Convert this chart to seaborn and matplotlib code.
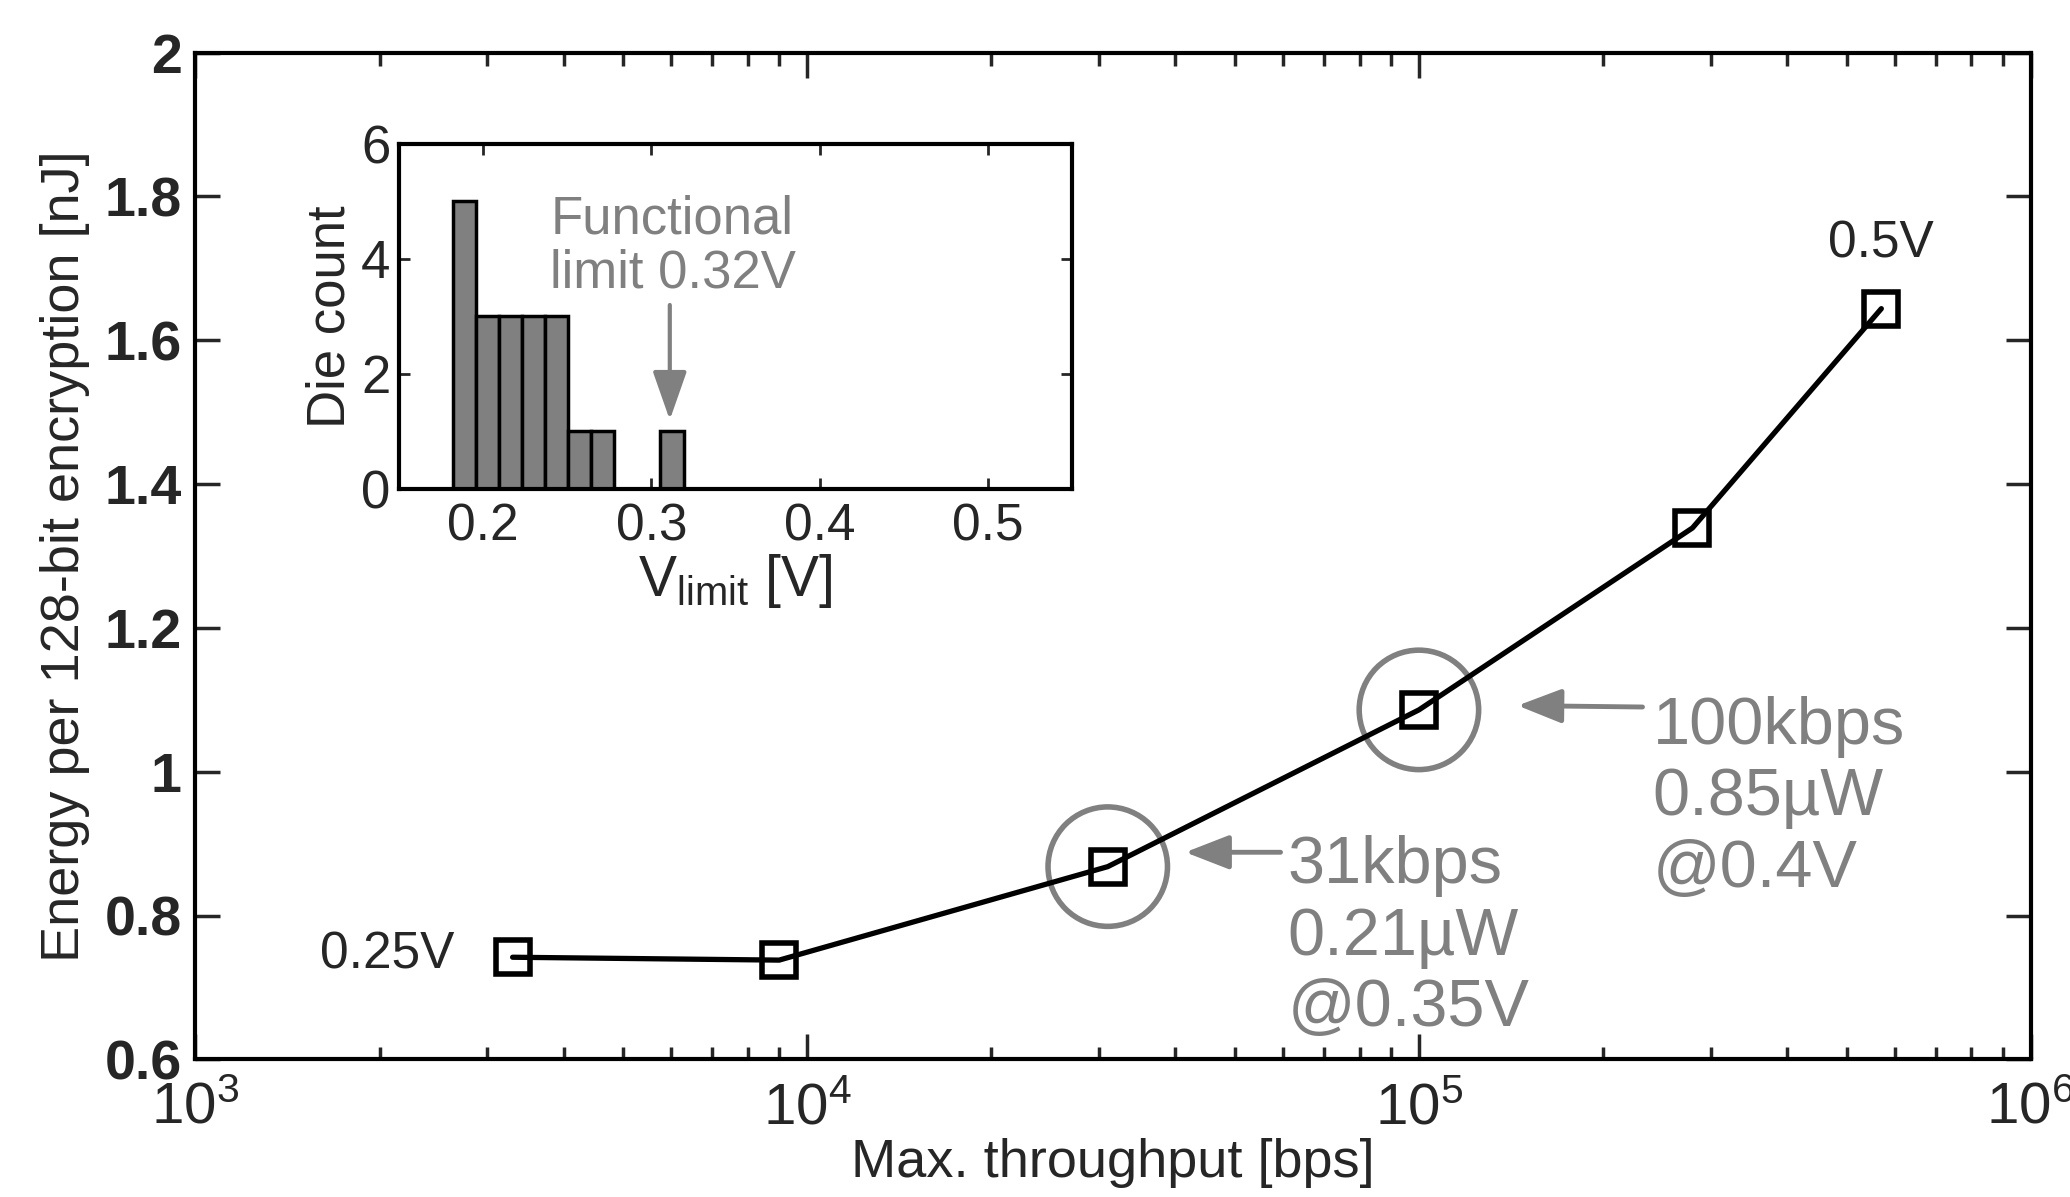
import seaborn as sns
import matplotlib.pyplot as plt
import numpy as np
import pandas as pd

# main curve: throughput vs energy per encryption
throughput = [3300, 9000, 31000, 100000, 280000, 570000]
energy = [0.742, 0.738, 0.868, 1.086, 1.339, 1.644]

# inset histogram of V_limit (die count per bin)
bin_centers = [0.189, 0.2027, 0.2164, 0.2301, 0.2438, 0.2575, 0.2712, 0.2849, 0.2986, 0.3123]
die_counts = [5, 3, 3, 3, 3, 1, 1, 0, 0, 1]

# highlighted operating points
hl_x = [31000, 100000]
hl_y = [0.868, 1.086]

gray = "#808080"

sns.set_style("ticks")
plt.rcParams["font.family"] = ["Liberation Sans", "DejaVu Sans"]
plt.rcParams["mathtext.fontset"] = "custom"
plt.rcParams["mathtext.rm"] = "Liberation Sans"
plt.rcParams["mathtext.it"] = "Liberation Sans"

fig = plt.figure(figsize=(20.7, 11.97), dpi=100)
ax = fig.add_axes([0.0944, 0.115, 0.8866, 0.841])

sns.lineplot(x=throughput, y=energy, ax=ax, color="black", linewidth=3.8,
             marker="s", markersize=24, markerfacecolor="none",
             markeredgecolor="black", markeredgewidth=4, zorder=3)
ax.scatter(hl_x, hl_y, s=86**2, facecolors="none", edgecolors=gray,
           linewidths=4, zorder=2)

ax.set_xscale("log")
ax.set_xlim(1e3, 1e6)
ax.set_ylim(0.6, 2.0)
ax.set_xticks([1e3, 1e4, 1e5, 1e6])
ax.set_xticklabels([r"$10^{3}$", r"$10^{4}$", r"$10^{5}$", r"$10^{6}$"], fontsize=42)
ax.set_yticks([0.6, 0.8, 1.0, 1.2, 1.4, 1.6, 1.8, 2.0])
ax.set_yticklabels(["0.6", "0.8", "1", "1.2", "1.4", "1.6", "1.8", "2"],
                   fontsize=40, fontweight="bold")
ax.tick_params(which="both", direction="in", top=True, right=True, width=2.5)
ax.tick_params(which="major", length=18)
ax.tick_params(which="minor", length=9)
ax.tick_params(axis="x", which="major", pad=16)
ax.tick_params(axis="y", which="major", pad=10)
for s in ax.spines.values():
    s.set_linewidth(3)
    s.set_color("black")
ax.set_xlabel("Max. throughput [bps]", fontsize=39, labelpad=2)
ax.set_ylabel("Energy per 128-bit encryption [nJ]", fontsize=39, labelpad=10)

ax.text(2650, 0.745, "0.25V", fontsize=37, ha="right", va="center")
ax.text(570000, 1.734, "0.5V", fontsize=37, ha="center", va="center")

arrow_kw = dict(arrowstyle="-|>,head_length=0.9,head_width=0.35",
                color=gray, lw=3.5, mutation_scale=30, shrinkA=0, shrinkB=0)
ax.annotate("", xy=(41500, 0.888), xytext=(59400, 0.888), arrowprops=arrow_kw)
ax.text(61000, 0.646, "31kbps\n0.21µW\n@0.35V", fontsize=48, color=gray,
        ha="left", va="baseline", linespacing=1.2)
ax.annotate("", xy=(145000, 1.092), xytext=(232000, 1.09), arrowprops=arrow_kw)
ax.text(241000, 0.840, "100kbps\n0.85µW\n@0.4V", fontsize=48, color=gray,
        ha="left", va="baseline", linespacing=1.2)

# inset
hist_df = pd.DataFrame({"v": bin_centers, "n": die_counts})
ins = fig.add_axes([0.1926, 0.5915, 0.3254, 0.2882])
sns.barplot(data=hist_df, x="v", y="n", native_scale=True, width=1.0, ax=ins,
            color=gray, saturation=1, edgecolor="black", linewidth=2.5)
ins.set_xlim(0.15, 0.55)
ins.set_ylim(0, 6)
ins.set_xticks([0.2, 0.3, 0.4, 0.5])
ins.set_xticklabels(["0.2", "0.3", "0.4", "0.5"], fontsize=37)
ins.set_yticks([0, 2, 4, 6])
ins.set_yticklabels(["0", "2", "4", "6"], fontsize=38)
ins.tick_params(direction="in", top=True, right=True, length=8, width=2)
ins.tick_params(axis="x", pad=10)
ins.tick_params(axis="y", pad=6)
for s in ins.spines.values():
    s.set_linewidth(3)
    s.set_color("black")
ins.set_xlabel(r"V$_{\mathrm{limit}}$ [V]", fontsize=41, labelpad=0)
ins.set_ylabel("Die count", fontsize=38, labelpad=4)
ins.text(0.24, 3.5, "Functional\nlimit 0.32V", fontsize=38, color=gray,
         ha="left", va="baseline", linespacing=1.1)
ins.annotate("", xy=(0.311, 1.2), xytext=(0.311, 3.2),
             arrowprops=dict(arrowstyle="-|>,head_length=1.0,head_width=0.35",
                             color=gray, lw=3, mutation_scale=30,
                             shrinkA=0, shrinkB=0))

fig.savefig("out.png", dpi=100)
